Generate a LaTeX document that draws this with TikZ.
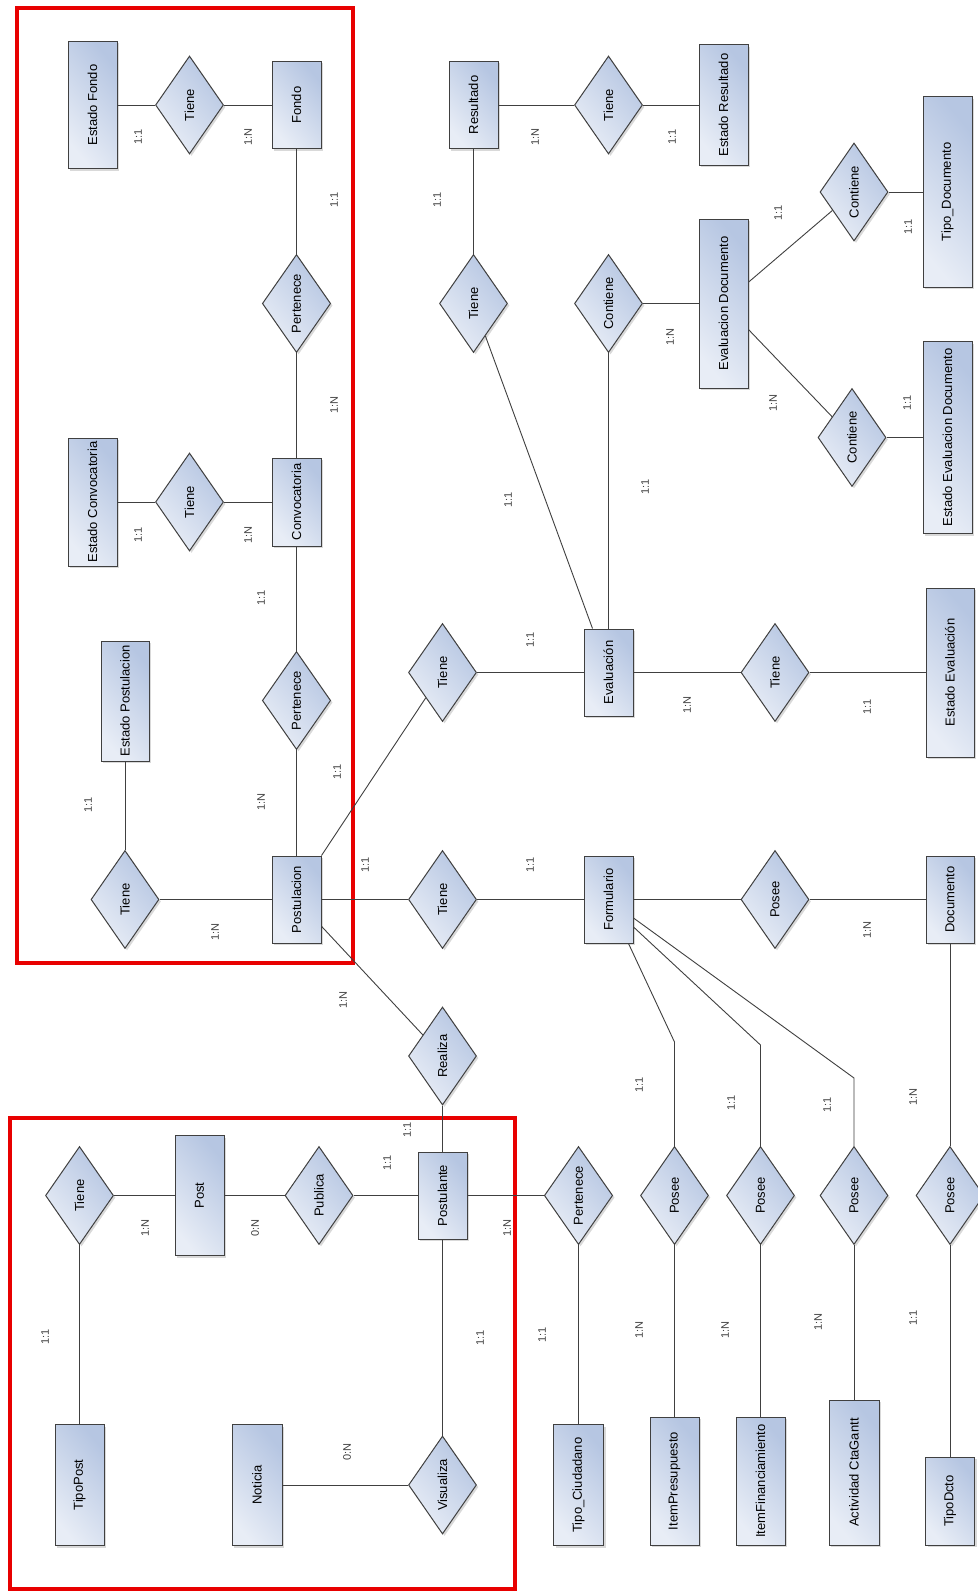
\documentclass[tikz,border=0pt]{standalone}
\usepackage{graphicx}
\usepackage{fontspec}
\setmainfont{Liberation Sans}
\usetikzlibrary{shapes.geometric,shadows}
\definecolor{erdark}{RGB}{182,198,226}
\definecolor{erlight}{RGB}{232,237,246}
\definecolor{erline}{RGB}{64,64,64}
\definecolor{framered}{RGB}{232,0,0}
\tikzset{
  shd/.style={top color=erdark, bottom color=erlight, shading angle=-50,
    drop shadow={shadow xshift=2pt, shadow yshift=-2pt, opacity=0.15, fill=black}},
  ent/.style 2 args={rectangle, draw=erline, line width=1pt, inner sep=0pt,
    minimum width=#1pt, minimum height=#2pt, shd,
    font=\fontsize{13}{15}\selectfont},
  rel/.style={diamond, draw=erline, line width=1pt, inner sep=0pt,
    minimum width=68pt, minimum height=98pt, shd,
    font=\fontsize{13}{15}\selectfont},
  conn/.style={draw=erline, line width=0.9pt},
  card/.style={font=\fontsize{11}{13}\selectfont, text=erline, inner sep=0pt},
  redframe/.style={draw=framered, line width=3.5pt}
}
\newcommand{\rt}[1]{\rotatebox{90}{#1}}
\begin{document}
\begin{tikzpicture}[x=1pt,y=-1pt]
\useasboundingbox (0,0) rectangle (977,1592);
\fill[white] (0,0) rectangle (977,1592);

% red frames
\draw[redframe] (17,8) rectangle (353,963);
\draw[redframe] (10,1118) rectangle (515,1589);

% entities
\node[ent={49}{127}] (estfondo) at (92.5,105) {\rt{Estado Fondo}};
\node[ent={49}{87}] (fondo) at (296.5,105) {\rt{Fondo}};
\node[ent={49}{87}] (resultado) at (473.5,105) {\rt{Resultado}};
\node[ent={49}{120}] (estres) at (723.5,105) {\rt{Estado Resultado}};
\node[ent={49}{190}] (tipodoc) at (947.5,192) {\rt{Tipo\_Documento}};
\node[ent={49}{169}] (evaldoc) at (723.5,303.5) {\rt{Evaluacion Documento}};
\node[ent={49}{192}] (estevaldoc) at (947.5,437.5) {\rt{Estado Evaluacion Documento}};
\node[ent={49}{128}] (estconv) at (92.5,502) {\rt{Estado Convocatoria}};
\node[ent={49}{88}] (conv) at (296.5,502) {\rt{Convocatoria}};
\node[ent={48}{120}] (estpost) at (125,701) {\rt{Estado Postulacion}};
\node[ent={49}{87}] (evaluacion) at (608.5,672.5) {\rt{Evaluación}};
\node[ent={48}{169}] (esteval) at (950,672.5) {\rt{Estado Evaluación}};
\node[ent={49}{87}] (postulacion) at (296.5,899.5) {\rt{Postulacion}};
\node[ent={49}{87}] (formulario) at (608.5,899.5) {\rt{Formulario}};
\node[ent={48}{87}] (documento) at (950,899.5) {\rt{Documento}};
\node[ent={49}{120}] (post) at (199.5,1195.5) {\rt{Post}};
\node[ent={49}{87}] (postulante) at (442.5,1195.5) {\rt{Postulante}};
\node[ent={49}{121}] (tipopost) at (79.5,1485) {\rt{TipoPost}};
\node[ent={50}{121}] (noticia) at (257,1485) {\rt{Noticia}};
\node[ent={50}{121}] (tipociud) at (578.5,1485) {\rt{Tipo\_Ciudadano}};
\node[ent={49}{128}] (itempres) at (674.5,1481) {\rt{ItemPresupuesto}};
\node[ent={49}{128}] (itemfin) at (760.5,1481) {\rt{ItemFinanciamiento}};
\node[ent={50}{145}] (actividad) at (854,1472.5) {\rt{Actividad CtaGantt}};
\node[ent={49}{88}] (tipodcto) at (950,1501) {\rt{TipoDcto}};

% relationships
\node[rel] (d1) at (189.5,105) {\rt{Tiene}};
\node[rel] (d2) at (296.5,303.5) {\rt{Pertenece}};
\node[rel] (d3) at (473.5,303.5) {\rt{Tiene}};
\node[rel] (d4) at (608.5,105) {\rt{Tiene}};
\node[rel] (d5) at (854,192) {\rt{Contiene}};
\node[rel] (d6) at (608.5,303.5) {\rt{Contiene}};
\node[rel] (d7) at (852,437.5) {\rt{Contiene}};
\node[rel] (d8) at (189.5,502) {\rt{Tiene}};
\node[rel] (d9) at (296.5,700.5) {\rt{Pertenece}};
\node[rel] (d10) at (125,899.5) {\rt{Tiene}};
\node[rel] (d11) at (442.5,672.5) {\rt{Tiene}};
\node[rel] (d12) at (775,672.5) {\rt{Tiene}};
\node[rel] (d13) at (442.5,899.5) {\rt{Tiene}};
\node[rel] (d14) at (775,899.5) {\rt{Posee}};
\node[rel] (d15) at (442.5,1056) {\rt{Realiza}};
\node[rel] (d16) at (79.5,1195.5) {\rt{Tiene}};
\node[rel] (d17) at (319,1195.5) {\rt{Publica}};
\node[rel] (d18) at (578.5,1195.5) {\rt{Pertenece}};
\node[rel] (d19) at (674.5,1195.5) {\rt{Posee}};
\node[rel] (d20) at (760.5,1195.5) {\rt{Posee}};
\node[rel] (d21) at (854,1195.5) {\rt{Posee}};
\node[rel] (d22) at (950,1195.5) {\rt{Posee}};
\node[rel] (d23) at (442.5,1485) {\rt{Visualiza}};

% bend points
\coordinate (b1) at (674.5,1042);
\coordinate (b2) at (760.5,1045);
\coordinate (b3) at (854,1078);

% connectors
\draw[conn] (estfondo) -- (d1) -- (fondo);
\draw[conn] (fondo) -- (d2) -- (conv);
\draw[conn] (resultado) -- (d4) -- (estres);
\draw[conn] (resultado) -- (d3);
\draw[conn] (d3) -- ([xshift=9pt]evaluacion.north west);
\draw[conn] (evaldoc) -- (d6);
\draw[conn] (d6) -- (evaluacion);
\draw[conn] (evaldoc) -- (d5);
\draw[conn] (d5) -- (tipodoc.west |- d5);
\draw[conn] (evaldoc) -- (d7);
\draw[conn] (d7) -- (estevaldoc.west |- d7);
\draw[conn] (estconv) -- (d8) -- (conv);
\draw[conn] (conv) -- (d9) -- (postulacion);
\draw[conn] (estpost) -- (d10);
\draw[conn] (d10) -- (postulacion);
\draw[conn] (postulacion.north east) -- (d11);
\draw[conn] (d11) -- (evaluacion) -- (d12) -- (esteval);
\draw[conn] (postulacion) -- (d13) -- (formulario);
\draw[conn] (formulario) -- (d14) -- (documento);
\draw[conn] (documento) -- (d22) -- (tipodcto);
\draw[conn] (postulacion) -- (d15);
\draw[conn] (d15) -- (postulante);
\draw[conn] (postulante) -- (d17) -- (post) -- (d16) -- (tipopost);
\draw[conn] (postulante) -- (d23) -- (noticia);
\draw[conn] (postulante) -- (d18) -- (tipociud);
\draw[conn] ([xshift=-5pt]formulario.south east) -- (b1) -- (d19);
\draw[conn] (d19) -- (itempres);
\draw[conn] ([yshift=-27.5pt]formulario.east) -- (b2) -- (d20);
\draw[conn] (d20) -- (itemfin);
\draw[conn] ([yshift=-18.5pt]formulario.east) -- (b3) -- (d21);
\draw[conn] (d21) -- (actividad);

% cardinalities
\foreach \x/\y/\t [count=\i] in {
138/137/1:1, 248/137/1:N, 334/200/1:1, 334/405/1:N, 437/200/1:1,
535/137/1:N, 672/137/1:1, 778/213/1:1, 908/227/1:1, 670/337/1:N,
773/403/1:N, 907/403/1:1, 138/535/1:1, 248/535/1:N, 261/598/1:1,
88/805/1:1, 261/802/1:N, 337/772/1:1, 215/932/1:N, 365/865/1:1,
508/500/1:1, 645/487/1:1, 530/640/1:1, 687/705/1:N, 867/707/1:1,
530/865/1:1, 867/930/1:N, 343/1000/1:N, 407/1130/1:1, 387/1163/1:1,
145/1228/1:N, 255/1228/0:N, 507/1228/1:N, 45/1337/1:1, 480/1338/1:1,
347/1452/0:N, 639/1085/1:1, 731/1103/1:1, 827/1105/1:1, 913/1097/1:N,
542/1335/1:1, 639/1330/1:N, 725/1330/1:N, 818/1322/1:N, 913/1318/1:1}
  \node[card] (lab\i) at (\x,\y) {\rt{\t}};
\end{tikzpicture}
\end{document}
